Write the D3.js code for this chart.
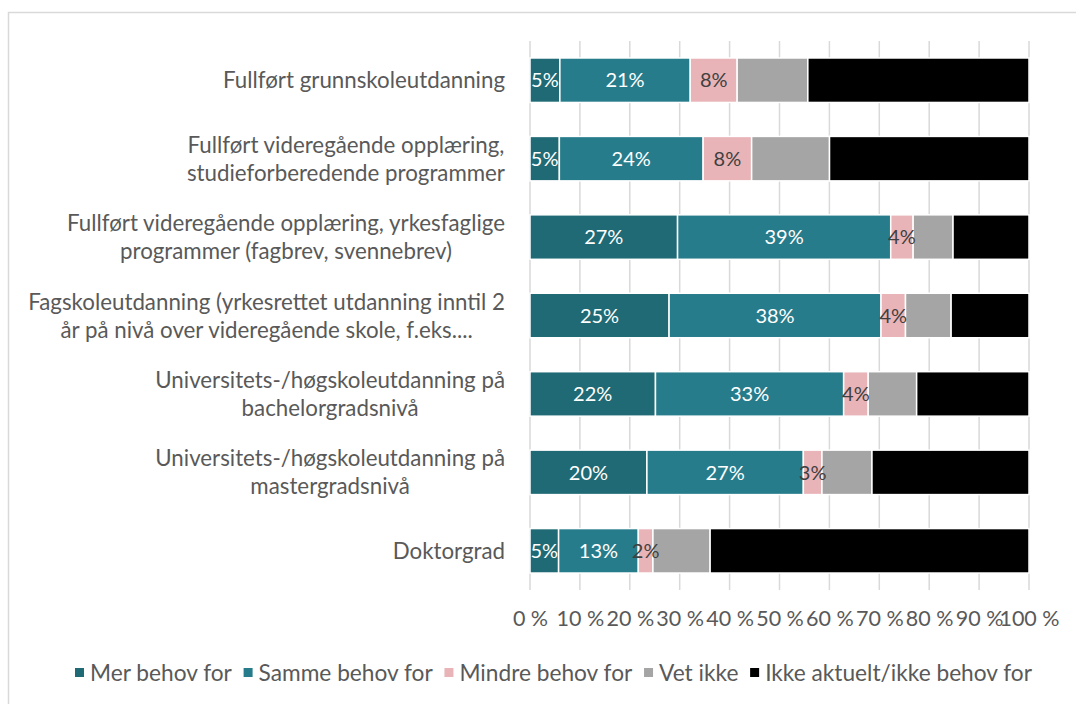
<!DOCTYPE html>
<html>
<head>
<meta charset="utf-8">
<script src="https://cdn.jsdelivr.net/npm/d3@7"></script>
<style>
  html, body { margin: 0; padding: 0; background: #ffffff; }
  svg { display: block; }
  text { font-family: Lato, "Open Sans", sans-serif; }
</style>
</head>
<body>
<svg id="chart" width="1076" height="704"></svg>
<script>
// Education levels (line breaks as drawn on the axis)
const categories = [
  "Fullført grunnskoleutdanning",
  "Fullført videregående opplæring,\nstudieforberedende programmer",
  "Fullført videregående opplæring, yrkesfaglige\nprogrammer (fagbrev, svennebrev)",
  "Fagskoleutdanning (yrkesrettet utdanning inntil 2\når på nivå over videregående skole, f.eks....",
  "Universitets-/høgskoleutdanning på\nbachelorgradsnivå",
  "Universitets-/høgskoleutdanning på\nmastergradsnivå",
  "Doktorgrad"
];

const seriesNames = ["Mer behov for", "Samme behov for", "Mindre behov for", "Vet ikke", "Ikke aktuelt/ikke behov for"];

// Share of respondents (%) per answer, one array per answer, in category order
const merBehov     = [4.9, 4.9, 27.0, 25.0, 22.0, 20.1, 4.7];
const sammeBehov   = [21.4, 24.0, 39.0, 38.1, 33.0, 26.9, 13.1];
const mindreBehov  = [7.7, 8.1, 4.1, 4.4, 4.3, 3.2, 2.4];
const vetIkke      = [11.6, 13.0, 7.3, 8.2, 8.5, 8.6, 9.4];
const ikkeAktuelt  = [36.3, 33.3, 13.9, 14.0, 19.7, 27.0, 52.4];

const tickLabels = ["0 %", "10 %", "20 %", "30 %", "40 %", "50 %", "60 %", "70 %", "80 %", "90 %", "100 %"];

const colors = ["#1f6a74", "#277c8b", "#e8b4b8", "#a5a5a5", "#000000"];
const labelColors = ["#ffffff", "#ffffff", "#404040", null, null];

const seriesValues = [merBehov, sammeBehov, mindreBehov, vetIkke, ikkeAktuelt];
const rows = categories.map((c, i) => {
  const r = { category: c };
  seriesNames.forEach((s, j) => { r[s] = seriesValues[j][i]; });
  return r;
});

const svg = d3.select("#chart");

// outer chart frame
svg.append("rect")
  .attr("x", 8.5).attr("y", 12.5)
  .attr("width", 1200).attr("height", 1000)
  .attr("fill", "none").attr("stroke", "#d9d9d9").attr("stroke-width", 1.5);

const x = d3.scaleLinear().domain([0, 1]).range([530, 1029]);
const y = d3.scaleBand().domain(categories).range([41, 590])
  .paddingInner(0.433).paddingOuter(0.2165);

// vertical gridlines
svg.append("g").selectAll("line")
  .data(d3.range(0, 11).map(d => d / 10))
  .join("line")
  .attr("x1", d => x(d)).attr("x2", d => x(d))
  .attr("y1", 41).attr("y2", 590)
  .attr("stroke", "#d9d9d9").attr("stroke-width", 1.5);

// x axis tick labels
const xAxis = d3.axisBottom(x)
  .tickValues(d3.range(0, 11).map(d => d / 10))
  .tickFormat((d, i) => tickLabels[i])
  .tickSize(0).tickPadding(0);
const gx = svg.append("g").attr("transform", "translate(0,610)").call(xAxis);
gx.select(".domain").remove();
gx.selectAll("text")
  .attr("fill", "#595959")
  .style("font-size", "21.5px")
  .attr("dy", "0.75em");

// stacked 100% bars
const stack = d3.stack().keys(seriesNames).offset(d3.stackOffsetExpand);
const stacked = stack(rows);

const layers = svg.append("g").selectAll("g")
  .data(stacked)
  .join("g")
  .attr("fill", (d, i) => colors[i]);

layers.selectAll("rect")
  .data(d => d)
  .join("rect")
  .attr("x", d => x(d[0]))
  .attr("y", d => y(d.data.category))
  .attr("width", d => x(d[1]) - x(d[0]))
  .attr("height", y.bandwidth())
  .attr("stroke", "#ffffff")
  .attr("stroke-width", 1.5);

// data labels for the first three answers
stacked.forEach((layer, i) => {
  if (!labelColors[i]) return;
  const key = layer.key;
  svg.append("g").selectAll("text")
    .data(layer)
    .join("text")
    .attr("x", d => (x(d[0]) + x(d[1])) / 2)
    .attr("y", d => y(d.data.category) + y.bandwidth() / 2)
    .attr("dy", "0.36em")
    .attr("text-anchor", "middle")
    .attr("fill", labelColors[i])
    .style("font-size", "20px")
    .text(d => Math.round(d.data[key]) + "%");
});

// category labels: block right-aligned, lines centred within the block
const catG = svg.append("g");
categories.forEach(c => {
  const lines = c.split("\n");
  const g = catG.append("g");
  const lineH = 28;
  const cy = y(c) + y.bandwidth() / 2;
  const texts = lines.map((ln, k) => g.append("text")
    .attr("y", cy + (k - (lines.length - 1) / 2) * lineH)
    .attr("dy", "0.36em")
    .attr("text-anchor", "middle")
    .attr("fill", "#595959")
    .style("font-size", "22.3px")
    .text(ln));
  const w = d3.max(texts, t => t.node().getComputedTextLength());
  texts.forEach(t => t.attr("x", 505 - w / 2));
});

// legend, spread across the bottom of the chart
const legend = svg.append("g");
const items = seriesNames.map((s, i) => {
  const g = legend.append("g");
  g.append("rect").attr("width", 9).attr("height", 9).attr("y", -5).attr("fill", colors[i]);
  const t = g.append("text").attr("x", 15).attr("dy", "0.36em")
    .attr("fill", "#595959").style("font-size", "22.7px").text(s);
  return { g, w: 15 + t.node().getComputedTextLength() };
});
const legendLeft = 75, legendRight = 1032;
const gap = (legendRight - legendLeft - d3.sum(items, d => d.w)) / (items.length - 1);
let lx = legendLeft;
items.forEach(it => {
  it.g.attr("transform", `translate(${lx},673)`);
  lx += it.w + gap;
});
</script>
</body>
</html>
